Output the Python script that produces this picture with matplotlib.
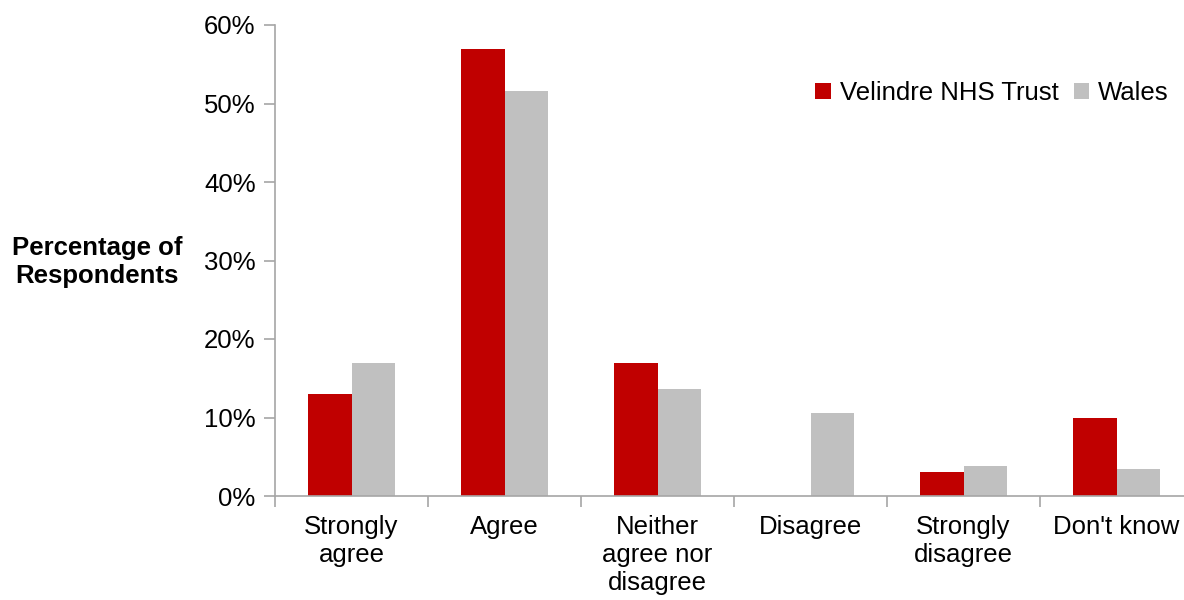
import matplotlib
matplotlib.use("Agg")
import matplotlib.pyplot as plt
import numpy as np
from matplotlib.ticker import PercentFormatter, FixedLocator

plt.rcParams['font.family'] = ['Liberation Sans', 'DejaVu Sans']

categories = ["Strongly\nagree", "Agree", "Neither\nagree nor\ndisagree",
              "Disagree", "Strongly\ndisagree", "Don't know"]
velindre = [13.0, 57.0, 17.0, 0.0, 3.0, 10.0]
wales = [17.0, 51.6, 13.6, 10.6, 3.8, 3.4]
series_names = ["Velindre NHS Trust", "Wales"]

red = "#C00000"
grey = "#C0C0C0"
axis_grey = "#A6A6A6"
fs = 18.5

fig = plt.figure(figsize=(11.84, 6.0), dpi=100)
ax = fig.add_axes([275 / 1184, 104 / 600, 918 / 1184, 471 / 600])

x = np.arange(len(categories))
w = 0.285
ax.bar(x - w / 2, velindre, width=w, color=red, label=series_names[0])
ax.bar(x + w / 2, wales, width=w, color=grey, label=series_names[1])

ax.set_xlim(-0.5, len(categories) - 0.5)
ax.set_ylim(0, 60)
ax.set_yticks(np.arange(0, 61, 10))
ax.yaxis.set_major_formatter(PercentFormatter(decimals=0))

ax.set_xticks(x)
ax.set_xticklabels(categories, fontsize=fs, linespacing=1.2)
ax.xaxis.set_minor_locator(FixedLocator(np.arange(-0.5, len(categories), 1.0)))
ax.tick_params(axis='x', which='major', length=0, pad=14)
ax.tick_params(axis='x', which='minor', length=8, color=axis_grey, width=1.2)
ax.tick_params(axis='y', length=8, color=axis_grey, width=1.2, labelsize=fs, pad=6)

for side in ("top", "right"):
    ax.spines[side].set_visible(False)
for side in ("left", "bottom"):
    ax.spines[side].set_color(axis_grey)
    ax.spines[side].set_linewidth(1.2)

fig.text(97 / 1184, 1 - 262 / 600, "Percentage of\nRespondents", fontsize=fs,
         fontweight='bold', ha='center', va='center', linespacing=1.25)

ax.legend(loc='upper right', bbox_to_anchor=(1179 / 1184, 1 - 71 / 600),
          bbox_transform=fig.transFigure, frameon=False, fontsize=fs, ncol=2,
          handlelength=0.6, handleheight=0.6, handletextpad=0.35,
          columnspacing=0.6, borderaxespad=0)

fig.savefig("out.png", dpi=100)
